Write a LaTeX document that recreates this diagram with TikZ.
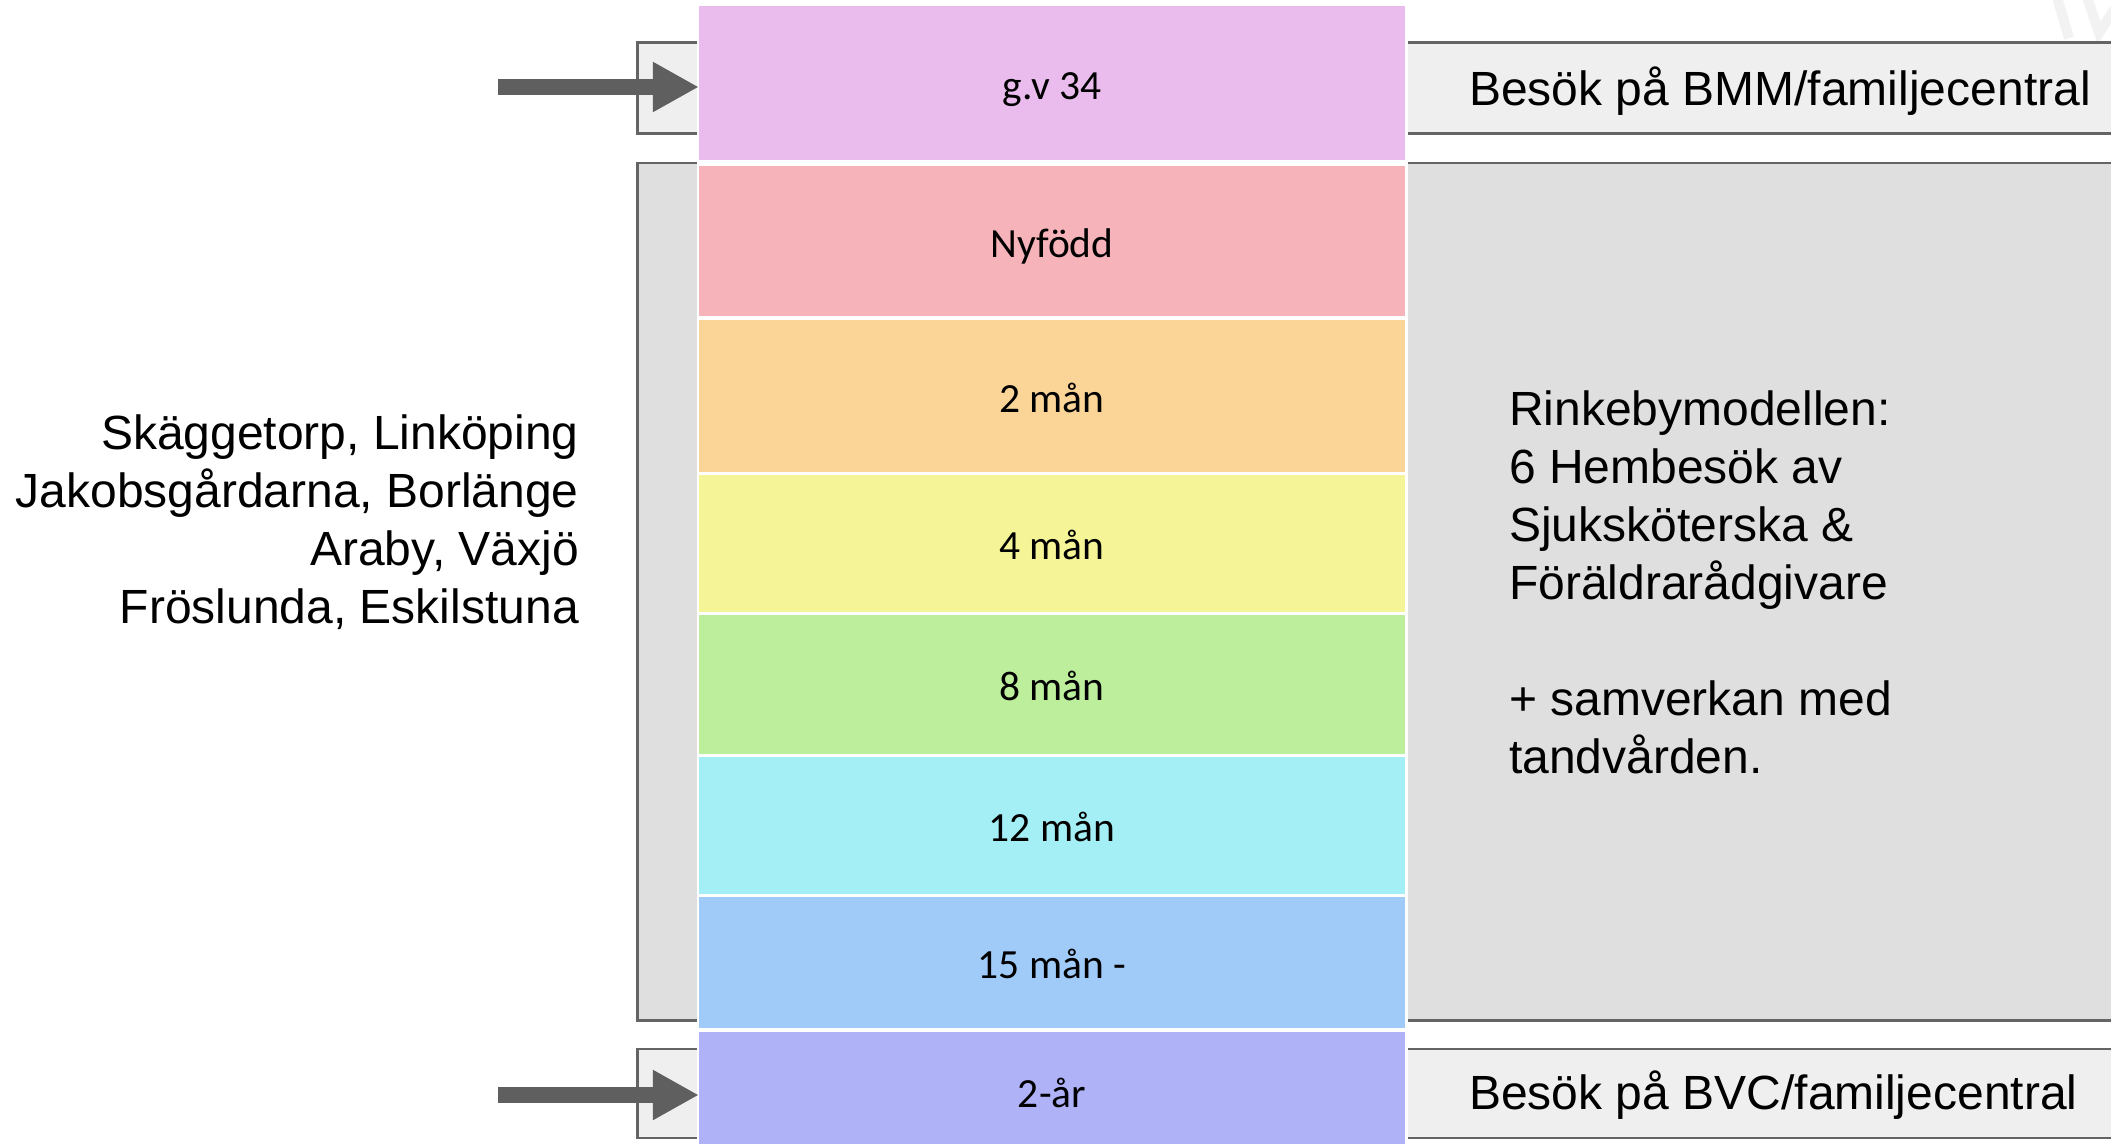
\documentclass[tikz,border=0pt]{standalone}
\usepackage{fontspec}
\setmainfont{Liberation Sans}
\newfontfamily\calibri{Carlito}
\usetikzlibrary{arrows.meta}
\definecolor{cGV}{HTML}{EABCEE}
\definecolor{cNF}{HTML}{F6B3BA}
\definecolor{cMA}{HTML}{FBD498}
\definecolor{cMB}{HTML}{F5F598}
\definecolor{cMC}{HTML}{BCEE9C}
\definecolor{cMD}{HTML}{A4EFF5}
\definecolor{cME}{HTML}{A0CAF8}
\definecolor{cMF}{HTML}{B0B2F8}
\definecolor{boxlight}{HTML}{EFEFEF}
\definecolor{boxdark}{HTML}{DFDFDF}
\definecolor{boxline}{HTML}{646464}
\definecolor{arrowgray}{HTML}{5F5F5F}
\definecolor{wmark}{HTML}{F2F2F2}
\tikzset{
  cellbox/.style={rectangle, draw=none, inner sep=0pt, minimum width=706pt,
    text height=32pt, text depth=0pt,
    font={\calibri\fontsize{41.5}{50}\selectfont}, text=black},
  panel/.style={draw=boxline, line width=2.7pt},
  bigtext/.style={inner sep=0pt, font={\fontsize{48}{58}\selectfont}, text=black},
  visitarrow/.style={draw=arrowgray, line width=16pt,
    -{Triangle[length=46pt,width=47pt]}},
}
\begin{document}
\begin{tikzpicture}[x=1pt,y=-1pt]
\useasboundingbox (0,0) rectangle (2111,1143);
\fill[white] (0,0) rectangle (2111,1143);
% faint watermark strokes
\draw[wmark, line width=10pt] (2056,-6) -- (2069,38);
\draw[wmark, line width=10pt] (2086,-6) -- (2099,33) -- (2118,4);
% grey panels
\draw[panel, fill=boxlight] (2125,42.5) -- (637.5,42.5) -- (637.5,133.5) -- (2125,133.5);
\draw[panel, fill=boxdark] (2125,163) -- (637.5,163) -- (637.5,1020.5) -- (2125,1020.5);
\draw[panel, fill=boxlight] (2125,1049) -- (637.5,1049) -- (637.5,1138) -- (2125,1138);
% white backing of the column
\fill[white] (697,0) rectangle (1408,1150);
% column cells
\node[cellbox, fill=cGV, minimum height=154pt] (gv)  at (1052,83)    {g.v 34};
\node[cellbox, fill=cNF, minimum height=150pt] (nf)  at (1052,241)   {Nyfödd};
\node[cellbox, fill=cMA, minimum height=152pt] (m2)  at (1052,396)   {2 mån};
\node[cellbox, fill=cMB, minimum height=137pt] (m4)  at (1052,543.5) {4 mån};
\node[cellbox, fill=cMC, minimum height=139pt] (m8)  at (1052,684.5) {8 mån};
\node[cellbox, fill=cMD, minimum height=137pt] (m12) at (1052,825.5) {12 mån};
\node[cellbox, fill=cME, minimum height=131pt] (m15) at (1052,962.5) {15 mån -};
\node[cellbox, fill=cMF, minimum height=118pt] (y2)  at (1052,1091)  {2-år};
% side texts
\node[bigtext, anchor=west] (bmm) at (1469,91) {Besök på BMM/familjecentral};
\node[bigtext, anchor=west] (bvc) at (1469,1095) {Besök på BVC/familjecentral};
\node[bigtext, anchor=east, align=right] (places) at (579,522)
  {Skäggetorp, Linköping\\Jakobsgårdarna, Borlänge\\Araby, Växjö\\Fröslunda, Eskilstuna};
\node[bigtext, anchor=west, align=left] (model) at (1509,582)
  {Rinkebymodellen:\\6 Hembesök av\\Sjuksköterska \&\\Föräldrarådgivare\\[58pt]+ samverkan med\\tandvården.};
% arrows
\coordinate (a1) at (498,87);
\coordinate (a2) at (498,1095);
\draw[visitarrow] (a1) -- (a1 -| gv.west);
\draw[visitarrow] (a2) -- (a2 -| y2.west);
\end{tikzpicture}
\end{document}
